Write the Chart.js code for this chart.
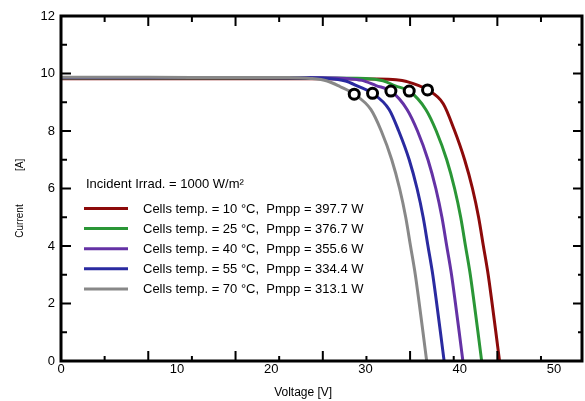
<!DOCTYPE html>
<html lang="en">
<head>
<meta charset="UTF-8">
<title>I-V curves</title>
<script src="https://cdn.jsdelivr.net/npm/chart.js"></script>
<style>
  html, body { margin: 0; padding: 0; background: #fff; }
  #wrap { width: 585px; height: 401px; }
</style>
</head>
<body>
<div id="wrap"><canvas id="myChart"></canvas></div>
<script>
// cell temperatures and max power from the legend
const temps = [10, 25, 40, 55, 70];
const pmpp = [397.7, 376.7, 355.6, 334.4, 313.1];
const colors = ['#8c0a0a', '#2a9636', '#6432a5', '#2a2aa0', '#888888'];

// I-V curves, voltage [V] / current [A]
const volt10 = [0, 10, 20, 30, 36, 38.4, 39.6, 42.0, 43.8, 45.05, 46.25, 47.15, 47.85, 48.4, 48.95, 49.4, 49.83, 50.25];
const amp10  = [9.82, 9.82, 9.82, 9.82, 9.81, 9.78, 9.72, 9.43, 8.95, 8.05, 7.00, 6.00, 5.00, 4.00, 3.00, 2.00, 1.00, 0];
const volt25 = [0, 10, 20, 30, 34.9, 36.9, 38.3, 39.9, 41.8, 43.0, 44.2, 45.1, 45.8, 46.35, 46.9, 47.35, 47.78, 48.2];
const amp25  = [9.84, 9.84, 9.84, 9.84, 9.83, 9.75, 9.57, 9.39, 8.75, 8.00, 7.00, 6.00, 5.00, 4.00, 3.00, 2.00, 1.00, 0];
const volt40 = [0, 10, 20, 30, 32.75, 34.5, 36.1, 37.8, 39.65, 40.85, 42.05, 42.95, 43.65, 44.2, 44.75, 45.2, 45.63, 46.05];
const amp40  = [9.85, 9.85, 9.85, 9.85, 9.83, 9.76, 9.58, 9.39, 8.75, 8.00, 7.00, 6.00, 5.00, 4.00, 3.00, 2.00, 1.00, 0];
const volt55 = [0, 10, 20, 28, 30.6, 32.6, 34.0, 35.7, 37.6, 38.7, 39.9, 40.8, 41.5, 42.05, 42.6, 43.05, 43.48, 43.9];
const amp55  = [9.86, 9.86, 9.86, 9.85, 9.83, 9.74, 9.56, 9.31, 8.75, 8.00, 7.00, 6.00, 5.00, 4.00, 3.00, 2.00, 1.00, 0];
const volt70 = [0, 10, 20, 26, 28.6, 30.5, 32.0, 33.6, 35.5, 36.7, 37.9, 38.8, 39.5, 40.05, 40.6, 41.05, 41.48, 41.9];
const amp70  = [9.87, 9.87, 9.86, 9.86, 9.83, 9.74, 9.54, 9.28, 8.75, 8.00, 7.00, 6.00, 5.00, 4.00, 3.00, 2.00, 1.00, 0];

// maximum power points (circles), same order as temps
const mppVolt = [42.0, 39.9, 37.8, 35.7, 33.6];
const mppAmp  = [9.43, 9.39, 9.39, 9.31, 9.28];

// axis ranges
const X_MAX = 59.7;
const Y_MAX = 12;
// the reference prints its voltage numbers on a stretched scale that does not sit on the tick marks
const xLabels = ['0', '10', '20', '30', '40', '50'];
const xLabelAt = [-2.31, 10, 20, 30, 40, 50];
const XL_MIN = -2.31, XL_MAX = 52.97;

const FONT = 'Liberation Sans, Arial, sans-serif';
const volts = [volt10, volt25, volt40, volt55, volt70];
const amps = [amp10, amp25, amp40, amp55, amp70];

const curveSets = temps.map((t, k) => ({
  label: 'Cells temp. = ' + t + ' °C,  Pmpp = ' + pmpp[k].toFixed(1) + ' W',
  data: volts[k].map((v, j) => ({x: v, y: amps[k][j]})),
  borderColor: colors[k],
  borderWidth: 3,
  pointRadius: 0,
  fill: false,
  cubicInterpolationMode: 'monotone',
  xAxisID: 'x',
  order: 5 - k
}));

const mppSet = {
  label: 'MPP',
  data: mppVolt.map((v, k) => ({x: v, y: mppAmp[k]})),
  showLine: false,
  pointRadius: 5,
  pointBorderWidth: 3,
  pointBorderColor: '#000',
  pointBackgroundColor: '#fff',
  xAxisID: 'x',
  order: 0
};

// frame, inward ticks and the legend box inside the plot
const framePlugin = {
  id: 'frame',
  afterDatasetsDraw(chart) {
    const {ctx, chartArea: a, scales} = chart;
    ctx.save();
    ctx.strokeStyle = '#000';
    ctx.lineWidth = 2;
    ctx.beginPath();
    for (let v = 5; v < X_MAX; v += 5) {
      const px = scales.x.getPixelForValue(v);
      const major = v % 10 === 0;
      ctx.moveTo(px, a.bottom); ctx.lineTo(px, a.bottom - (major ? 10 : 5));
      ctx.moveTo(px, a.top); ctx.lineTo(px, a.top + (major ? 10 : 6));
    }
    for (let v = 1; v < Y_MAX; v++) {
      const py = scales.y.getPixelForValue(v);
      const major = v % 2 === 0;
      ctx.moveTo(a.left, py); ctx.lineTo(a.left + (major ? 10 : 6), py);
      ctx.moveTo(a.right, py); ctx.lineTo(a.right - (major ? 9 : 4), py);
    }
    ctx.stroke();
    ctx.lineWidth = 3;
    ctx.strokeRect(a.left, a.top, a.right - a.left, a.bottom - a.top);

    // legend
    ctx.font = '13px ' + FONT;
    ctx.fillStyle = '#000';
    ctx.textBaseline = 'middle';
    ctx.textAlign = 'left';
    ctx.fillText('Incident Irrad. = 1000 W/m²', a.left + 25, a.top + 168);
    curveSets.forEach((ds, k) => {
      const y = a.top + 192.5 + k * 20.1;
      ctx.strokeStyle = ds.borderColor;
      ctx.lineWidth = 3;
      ctx.beginPath();
      ctx.moveTo(a.left + 23, y);
      ctx.lineTo(a.left + 67, y);
      ctx.stroke();
      ctx.fillText(ds.label, a.left + 82, y + 1);
    });
    ctx.restore();
  }
};

new Chart(document.getElementById('myChart'), {
  type: 'line',
  data: { datasets: [mppSet].concat(curveSets) },
  options: {
    responsive: true,
    maintainAspectRatio: false,
    animation: false,
    layout: { autoPadding: false, padding: { top: 16, right: 3, left: 0, bottom: 0 } },
    plugins: { legend: { display: false }, tooltip: { enabled: false } },
    scales: {
      x: { type: 'linear', display: false, min: 0, max: X_MAX },
      xt: {
        type: 'linear',
        position: 'bottom',
        min: XL_MIN,
        max: XL_MAX,
        grid: { display: false, drawTicks: false },
        border: { display: false },
        afterBuildTicks: s => { s.ticks = xLabelAt.map(v => ({value: v})); },
        afterFit: s => { s.height = 40; },
        ticks: {
          autoSkip: false,
          maxRotation: 0,
          padding: 1,
          color: '#000',
          font: { family: FONT, size: 13 },
          callback: (v, i) => xLabels[i]
        },
        title: {
          display: true,
          text: 'Voltage [V]           ',
          color: '#000',
          font: { family: FONT, size: 12 },
          padding: { top: 0, bottom: 1 }
        }
      },
      y: {
        min: 0,
        max: Y_MAX,
        grid: { display: false, drawTicks: false },
        border: { display: false },
        afterFit: s => { s.width = 61; },
        ticks: {
          stepSize: 2,
          padding: 6,
          color: '#000',
          font: { family: FONT, size: 13 }
        },
        title: {
          display: true,
          text: 'Current            [A]       ',
          color: '#000',
          font: { family: FONT, size: 10 },
          padding: { top: 14, bottom: 0 }
        }
      }
    }
  },
  plugins: [framePlugin]
});
</script>
</body>
</html>
